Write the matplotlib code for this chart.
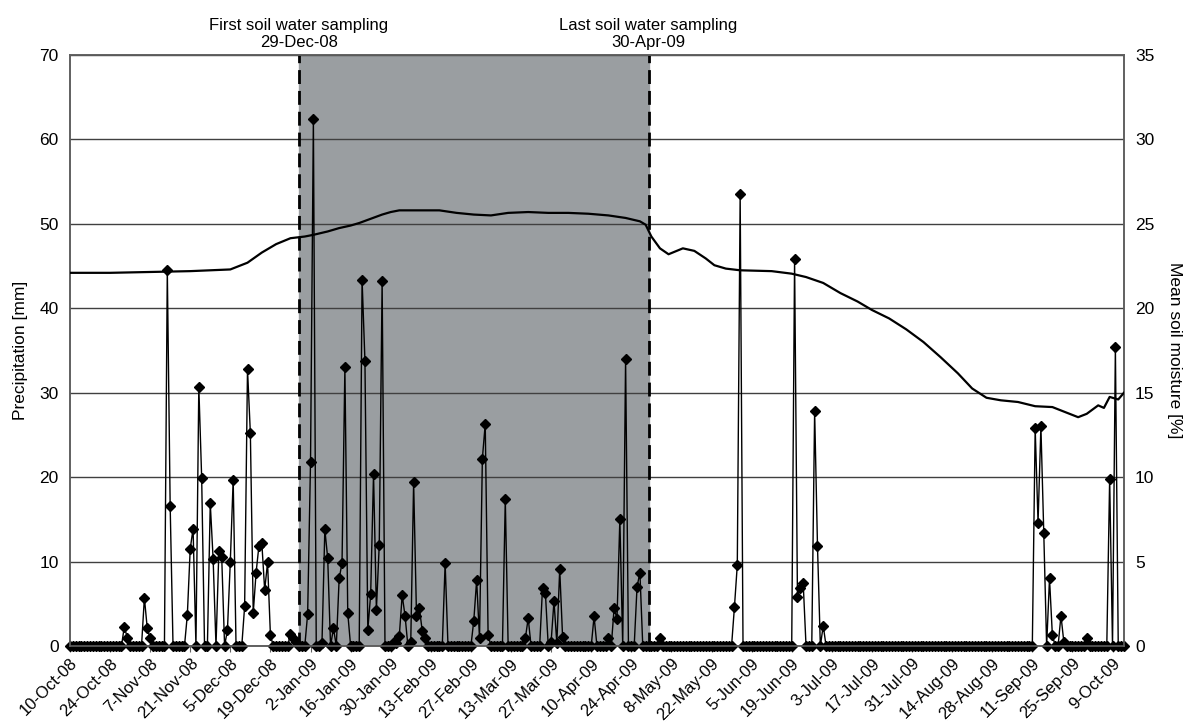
""" Daily precipitation and mean soil moisture, Oct 2008 - Oct 2009
"""

import numpy as np
import pandas as pd
import matplotlib
matplotlib.use('Agg')
import matplotlib.pyplot as plt
import matplotlib.dates as mdates
import matplotlib.transforms as mtransforms

plt.rcParams['font.family'] = ['Liberation Sans', 'DejaVu Sans']

# Data
start_date = '2008-10-10'
n_days = 369
first_sampling = '2008-12-29'
last_sampling = '2009-04-30'
sampling_text = ['First soil water sampling\n29-Dec-08',
                 'Last soil water sampling\n30-Apr-09']

# days after 10-Oct-08 with rain, and the amount [mm]
rain_day = [19, 20, 26, 27, 28, 34, 35, 41, 42, 43, 45, 46, 49, 50, 52, 53,
            55, 56, 57, 61, 62, 63, 64, 65, 66, 67, 68, 69, 70, 77, 78, 79,
            83, 84, 85, 88, 89, 90, 92, 94, 95, 96, 97, 102, 103, 104, 105,
            106, 107, 108, 109, 113, 114, 115, 116, 117, 119, 120, 121, 122,
            123, 124, 131, 141, 142, 143, 144, 145, 146, 152, 159, 160, 165,
            166, 168, 169, 170, 171, 172, 183, 188, 190, 191, 192, 194, 198,
            199, 206, 232, 233, 234, 253, 254, 255, 256, 260, 261, 263, 337,
            338, 339, 340, 342, 343, 346, 347, 355, 363, 365]
rain_mm = [2.3, 1.0, 5.7, 2.1, 0.9, 44.5, 16.6, 3.7, 11.5, 13.9, 30.7, 19.9,
           16.9, 10.3, 11.2, 10.5, 1.9, 10.0, 19.7, 4.7, 32.8, 25.2, 3.9, 8.7,
           11.9, 12.2, 6.6, 9.9, 1.3, 1.4, 0.9, 0.5, 3.8, 21.8, 62.4, 0.3,
           13.8, 10.4, 2.1, 8.0, 9.8, 33.0, 3.9, 43.4, 33.8, 1.9, 6.1, 20.4,
           4.3, 12.0, 43.2, 0.5, 0.3, 1.2, 6.0, 3.6, 0.5, 19.4, 3.6, 4.5,
           1.8, 1.0, 9.8, 3.0, 7.8, 0.9, 22.2, 26.3, 1.3, 17.4, 0.9, 3.3,
           6.9, 6.3, 0.5, 5.3, 0.3, 9.1, 1.1, 3.5, 0.9, 4.5, 3.2, 15.0, 34.0,
           7.0, 8.7, 0.9, 4.6, 9.6, 53.5, 45.8, 5.8, 6.9, 7.5, 27.8, 11.8,
           2.4, 25.8, 14.6, 26.0, 13.4, 8.0, 1.3, 3.6, 0.5, 1.0, 19.8, 35.4]

# mean soil moisture [%], read at these days
sm_day = [0, 14, 28, 42, 56, 62, 67, 72, 77, 82, 85, 90, 94, 98, 101, 105,
          109, 112, 115, 122, 129, 135, 141, 147, 153, 160, 167, 174, 181,
          188, 194, 199, 201, 203, 206, 209, 214, 218, 222, 225, 229, 234,
          245, 252, 257, 263, 269, 275, 280, 286, 292, 298, 304, 310, 315,
          320, 325, 331, 337, 343, 346, 352, 355, 359, 361, 363, 366, 368]
sm_pct = [22.1, 22.1, 22.15, 22.2, 22.3, 22.7, 23.3, 23.8, 24.15, 24.25,
          24.35, 24.55, 24.75, 24.9, 25.05, 25.3, 25.55, 25.7, 25.8, 25.8,
          25.8, 25.65, 25.55, 25.5, 25.65, 25.7, 25.65, 25.65, 25.6, 25.5,
          25.35, 25.15, 24.95, 24.25, 23.55, 23.2, 23.55, 23.4, 22.95, 22.55,
          22.35, 22.25, 22.2, 22.05, 21.85, 21.5, 20.9, 20.4, 19.9, 19.4,
          18.75, 18.0, 17.1, 16.15, 15.25, 14.7, 14.55, 14.45, 14.2, 14.15,
          13.95, 13.55, 13.75, 14.25, 14.1, 14.75, 14.6, 15.0]

# Build the daily series
dates = pd.date_range(start_date, periods=n_days, freq='D')
precip = np.zeros(n_days)
precip[rain_day] = rain_mm
sm_dates = dates[sm_day]

fig = plt.figure(figsize=(11.85, 7.22), dpi=100)
ax = fig.add_axes([0.059, 0.1053, 0.8895, 0.8185])
ax2 = ax.twinx()

# Sampling period
ax.axvspan(pd.Timestamp(first_sampling), pd.Timestamp(last_sampling),
           color='#9a9ea1', zorder=0)
trans = mtransforms.blended_transform_factory(ax.transData, fig.transFigure)
for d, txt in zip([first_sampling, last_sampling], sampling_text):
    ax.axvline(pd.Timestamp(d), color='black', lw=2, ls=(0, (5, 2.5)),
               zorder=3)
    ax.text(pd.Timestamp(d), 0.975, txt, transform=trans, ha='center',
            va='top', fontsize=12, linespacing=1.2)

ax.plot(dates, precip, color='black', lw=1, marker='D', ms=5,
        zorder=4, clip_on=False)
ax2.plot(sm_dates, sm_pct, color='black', lw=1.6, zorder=4)

ax.set_ylim(0, 70)
ax.set_yticks(np.arange(0, 71, 10))
ax2.set_ylim(0, 35)
ax2.set_yticks(np.arange(0, 36, 5))
ax.set_xlim(dates[0], dates[-1])
ax.yaxis.grid(True, color='#404040', lw=1)
ax.set_axisbelow(False)
ax.grid(False, axis='x')

tick_dates = pd.date_range(start_date, dates[-1], freq='14D')
ax.set_xticks(tick_dates)
ax.xaxis.set_major_formatter(mdates.DateFormatter('%-d-%b-%y'))
for lab in ax.get_xticklabels():
    lab.set_rotation(45)
    lab.set_ha('right')
    lab.set_rotation_mode('anchor')

ax.tick_params(axis='x', labelsize=12, length=4, color='#606060', pad=3)
ax.tick_params(axis='y', labelsize=12.5, length=0, pad=8)
ax2.tick_params(axis='y', labelsize=12.5, length=0, pad=8)
for a in [ax, ax2]:
    for s in a.spines.values():
        s.set_color('#606060')
        s.set_linewidth(1.2)

ax.set_ylabel('Precipitation [mm]', fontsize=12.5, labelpad=8)
ax2.set_ylabel('Mean soil moisture [%]', fontsize=12.5, rotation=-90,
               labelpad=20)

fig.savefig('out.png', dpi=100)
